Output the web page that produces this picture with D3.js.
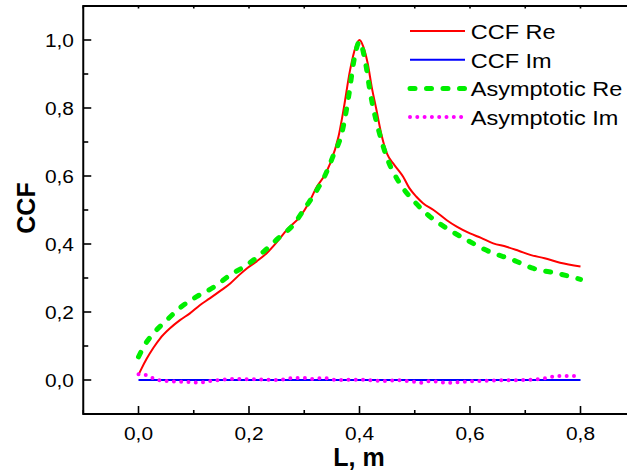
<!DOCTYPE html>
<html>
<head>
<meta charset="utf-8">
<script src="https://cdn.jsdelivr.net/npm/d3@7"></script>
<style>
  html, body { margin: 0; padding: 0; background: #fff; }
  svg { display: block; font-family: "Liberation Sans", Arial, sans-serif; }
</style>
</head>
<body>
<svg id="chart" width="627" height="474"></svg>
<script>
// Cross-correlation function vs. distance L
const ccfReL = [0, 0.005, 0.015, 0.027, 0.039, 0.057, 0.075, 0.093, 0.111, 0.129, 0.148, 0.166, 0.181, 0.196, 0.214, 0.232, 0.25, 0.268, 0.292, 0.308, 0.323, 0.336, 0.347, 0.362, 0.371, 0.383, 0.393, 0.4, 0.407, 0.415, 0.422, 0.43, 0.44, 0.45, 0.461, 0.47, 0.479, 0.49, 0.503, 0.515, 0.534, 0.558, 0.576, 0.6, 0.62, 0.642, 0.666, 0.688, 0.709, 0.735, 0.763, 0.8];
const ccfReV = [0.015, 0.032, 0.063, 0.095, 0.122, 0.152, 0.176, 0.196, 0.22, 0.24, 0.262, 0.284, 0.307, 0.328, 0.349, 0.373, 0.405, 0.441, 0.48, 0.52, 0.569, 0.6, 0.637, 0.716, 0.794, 0.912, 0.98, 1.0, 0.98, 0.93, 0.863, 0.8, 0.72, 0.665, 0.637, 0.618, 0.598, 0.565, 0.539, 0.52, 0.5, 0.47, 0.451, 0.431, 0.418, 0.402, 0.392, 0.38, 0.368, 0.358, 0.345, 0.334];

const ccfImL = [0, 0.8];
const ccfImV = [0, 0];

const asymReL = [0, 0.012, 0.027, 0.051, 0.078, 0.105, 0.138, 0.166, 0.196, 0.226, 0.253, 0.28, 0.301, 0.323, 0.338, 0.353, 0.368, 0.38, 0.39, 0.4, 0.41, 0.42, 0.437, 0.449, 0.473, 0.497, 0.528, 0.558, 0.594, 0.636, 0.678, 0.715, 0.757, 0.8];
const asymReV = [0.068, 0.105, 0.137, 0.176, 0.216, 0.245, 0.275, 0.309, 0.338, 0.377, 0.417, 0.456, 0.505, 0.559, 0.603, 0.662, 0.726, 0.83, 0.94, 0.995, 0.94, 0.84, 0.72, 0.657, 0.578, 0.529, 0.48, 0.446, 0.412, 0.377, 0.353, 0.328, 0.314, 0.296];

const asymImL = [0, 0.015, 0.028, 0.042, 0.06, 0.08, 0.095, 0.108, 0.122, 0.14, 0.175, 0.21, 0.25, 0.283, 0.3, 0.315, 0.336, 0.36, 0.4, 0.443, 0.47, 0.497, 0.51, 0.53, 0.55, 0.56, 0.6, 0.65, 0.7, 0.72, 0.734, 0.747, 0.76, 0.8];
const asymImV = [0.017, 0.014, 0.004, -0.002, -0.004, -0.005, -0.006, -0.008, -0.005, -0.001, 0.003, 0.002, 0.0, 0.006, 0.006, 0.003, 0.006, 0.0, 0.001, -0.003, -0.001, -0.005, -0.008, -0.003, -0.007, -0.008, -0.004, -0.001, 0.0, 0.002, 0.005, 0.009, 0.012, 0.012];

const xMajor = [0, 0.2, 0.4, 0.6, 0.8];
const xMajorLabels = ["0,0", "0,2", "0,4", "0,6", "0,8"];
const xMinor = [-0.1, 0.1, 0.3, 0.5, 0.7, 0.9];
const yMajor = [0, 0.2, 0.4, 0.6, 0.8, 1.0];
const yMajorLabels = ["0,0", "0,2", "0,4", "0,6", "0,8", "1,0"];
const yMinor = [-0.1, 0.1, 0.3, 0.5, 0.7, 0.9, 1.1];

const seriesNames = ["CCF Re", "CCF Im", "Asymptotic Re", "Asymptotic Im"];
const seriesColors = ["#ff0000", "#0000ff", "#00ee00", "#ff00ff"];

const svg = d3.select("#chart");
const x = d3.scaleLinear().domain([-0.1, 0.9]).range([83.25, 635.75]);
const y = d3.scaleLinear().domain([-0.1, 1.1]).range([414, 6]);

const zip = (a, b) => a.map((v, i) => [v, b[i]]);
const line = d3.line().x(d => x(d[0])).y(d => y(d[1])).curve(d3.curveMonotoneX);

const styles = [
  { w: 2, dash: null, cap: "butt" },
  { w: 2, dash: null, cap: "butt" },
  { w: 5, dash: "5,11.5", cap: "round" },
  { w: 4, dash: "0,7.3", cap: "round" }
];
const data = [zip(ccfReL, ccfReV), zip(ccfImL, ccfImV), zip(asymReL, asymReV), zip(asymImL, asymImV)];

data.forEach((d, i) => {
  svg.append("path")
    .attr("d", line(d))
    .attr("fill", "none")
    .attr("stroke", seriesColors[i])
    .attr("stroke-width", styles[i].w)
    .attr("stroke-linecap", styles[i].cap)
    .attr("stroke-linejoin", "round")
    .attr("stroke-dasharray", styles[i].dash);
});

// Frame: bottom, left, top
const ax = svg.append("g").attr("stroke", "#000").attr("stroke-width", 2);
ax.append("line").attr("x1", x(-0.1)).attr("x2", 627).attr("y1", y(-0.1)).attr("y2", y(-0.1));
ax.append("line").attr("x1", x(-0.1)).attr("x2", x(-0.1)).attr("y1", y(-0.1) + 1).attr("y2", y(1.1) - 1);
ax.append("line").attr("x1", x(-0.1)).attr("x2", 627).attr("y1", y(1.1)).attr("y2", y(1.1));

// Ticks (pointing inward)
const tk = svg.append("g").attr("stroke", "#000").attr("stroke-width", 1.6);
xMajor.forEach(v => tk.append("line").attr("x1", x(v)).attr("x2", x(v)).attr("y1", y(-0.1)).attr("y2", y(-0.1) - 8));
xMinor.forEach(v => tk.append("line").attr("x1", x(v)).attr("x2", x(v)).attr("y1", y(-0.1)).attr("y2", y(-0.1) - 4));
xMajor.concat(xMinor).forEach(v => tk.append("line").attr("x1", x(v)).attr("x2", x(v)).attr("y1", y(1.1)).attr("y2", y(1.1) + 2.5));
yMajor.forEach(v => tk.append("line").attr("x1", x(-0.1)).attr("x2", x(-0.1) + 8).attr("y1", y(v)).attr("y2", y(v)));
yMinor.forEach(v => tk.append("line").attr("x1", x(-0.1)).attr("x2", x(-0.1) + 5).attr("y1", y(v)).attr("y2", y(v)));

// Tick labels
const tl = svg.append("g").attr("font-size", 19).attr("fill", "#000");
xMajor.forEach((v, i) => {
  tl.append("text")
    .attr("transform", `translate(${x(v)},440) scale(1.1,1)`)
    .attr("text-anchor", "middle")
    .text(xMajorLabels[i]);
});
yMajor.forEach((v, i) => {
  tl.append("text")
    .attr("transform", `translate(74,${y(v)}) scale(1.1,1)`)
    .attr("text-anchor", "end")
    .attr("dy", "0.36em")
    .text(yMajorLabels[i]);
});

// Axis titles
svg.append("text")
  .attr("x", 359).attr("y", 466)
  .attr("text-anchor", "middle")
  .attr("font-size", 25).attr("font-weight", "bold")
  .text("L, m");
svg.append("text")
  .attr("transform", "translate(35,208) rotate(-90)")
  .attr("text-anchor", "middle")
  .attr("font-size", 25).attr("font-weight", "bold")
  .text("CCF");

// Legend
const lg = svg.append("g");
seriesNames.forEach((name, i) => {
  const base = 39 + i * 28.7;
  lg.append("line")
    .attr("x1", 410).attr("x2", 465)
    .attr("y1", base - 8).attr("y2", base - 8)
    .attr("stroke", seriesColors[i])
    .attr("stroke-width", styles[i].w)
    .attr("stroke-linecap", styles[i].cap)
    .attr("stroke-dasharray", styles[i].dash);
  lg.append("text")
    .attr("transform", `translate(470.7,${base}) scale(1.12,1)`)
    .attr("font-size", 21)
    .text(name);
});
</script>
</body>
</html>
